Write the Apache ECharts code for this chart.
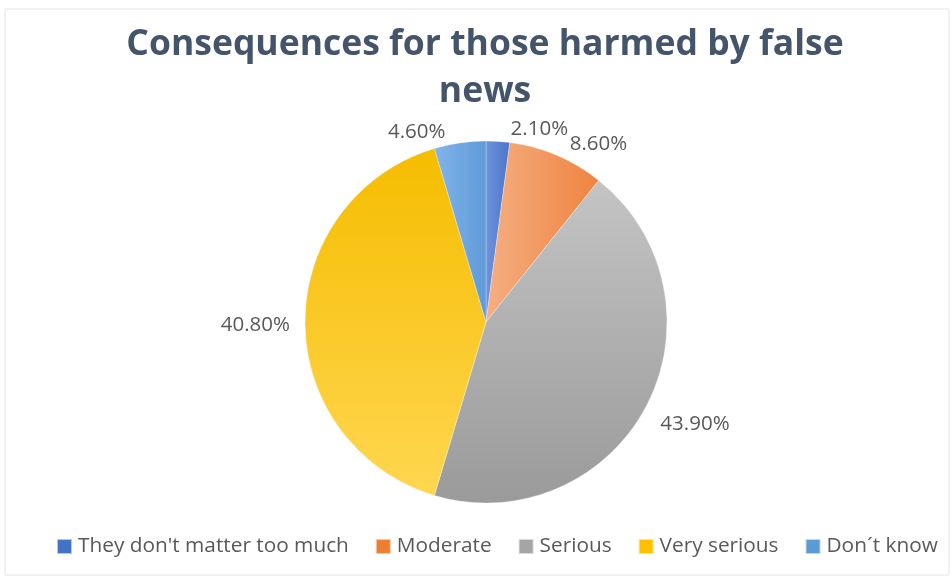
<!DOCTYPE html>
<html>
<head>
<meta charset="utf-8">
<script src="https://cdn.jsdelivr.net/npm/echarts@6/dist/echarts.min.js"></script>
<style>
  html, body { margin: 0; padding: 0; background: #ffffff; }
  #chart { width: 952px; height: 581px; }
</style>
</head>
<body>
<div id="chart"></div>
<script>
// Survey answers and their shares (percent)
const categories = ["They don't matter too much", "Moderate", "Serious", "Very serious", "Don´t know"];
const shares = [2.1, 8.6, 43.9, 40.8, 4.6];

// Two-stop fills per slice: [start colour, end colour, x2, y2]
const sliceFills = [
  ['#6f93dc', '#4a74c8', 1, 0],
  ['#f5ae82', '#ee8440', 1, 0],
  ['#c4c4c4', '#9a9a9a', 0, 1],
  ['#f5bd00', '#ffd650', 0, 1],
  ['#82b4ea', '#5e9bd8', 1, 0]
];
const legendColors = ['#4472c4', '#ed7d31', '#a5a5a5', '#ffc000', '#5b9bd5'];

// Small nudges of the value labels away from the default outside spot
const labelNudge = [[7, -2], [4, -2], [0, 14], [0, 3], [-8, -1]];

const chart = echarts.init(document.getElementById('chart'));

const data = categories.map((name, i) => ({
  name: name,
  value: shares[i],
  itemStyle: {
    color: new echarts.graphic.LinearGradient(0, 0, sliceFills[i][2], sliceFills[i][3], [
      { offset: 0, color: sliceFills[i][0] },
      { offset: 1, color: sliceFills[i][1] }
    ])
  }
}));

chart.setOption({
  animation: false,
  backgroundColor: '#ffffff',
  graphic: [{
    type: 'rect',
    shape: { x: 5, y: 9, width: 944, height: 566 },
    style: { fill: 'none', stroke: '#e4e4e4', lineWidth: 1 },
    silent: true
  }],
  title: {
    text: 'Consequences for those harmed by false\nnews',
    left: 480,
    top: 16,
    textAlign: 'center',
    textStyle: {
      fontFamily: 'Open Sans',
      fontWeight: 'bold',
      fontSize: 35.5,
      color: '#44546a',
      lineHeight: 47
    }
  },
  legend: {
    bottom: 19,
    left: 51,
    itemWidth: 15,
    itemHeight: 15,
    itemGap: 26,
    icon: 'rect',
    textStyle: { fontFamily: 'Open Sans', fontSize: 20.8, color: '#595959', padding: [0, 0, 0, 1] },
    data: categories.map((n, i) => ({ name: n, itemStyle: { color: legendColors[i] } }))
  },
  series: [{
    type: 'pie',
    center: [486, 322],
    radius: 181,
    startAngle: 90,
    clockwise: true,
    avoidLabelOverlap: false,
    data: data,
    itemStyle: { borderColor: 'rgba(255,255,255,0.6)', borderWidth: 0.5 },
    label: {
      show: true,
      position: 'outside',
      fontFamily: 'Open Sans',
      fontSize: 20.5,
      color: '#595959',
      formatter: p => p.value.toFixed(2) + '%'
    },
    labelLine: { show: false, length: 10, length2: 0 },
    labelLayout: p => ({ dx: labelNudge[p.dataIndex][0], dy: labelNudge[p.dataIndex][1] }),
    emphasis: { disabled: true }
  }]
});
</script>
</body>
</html>
